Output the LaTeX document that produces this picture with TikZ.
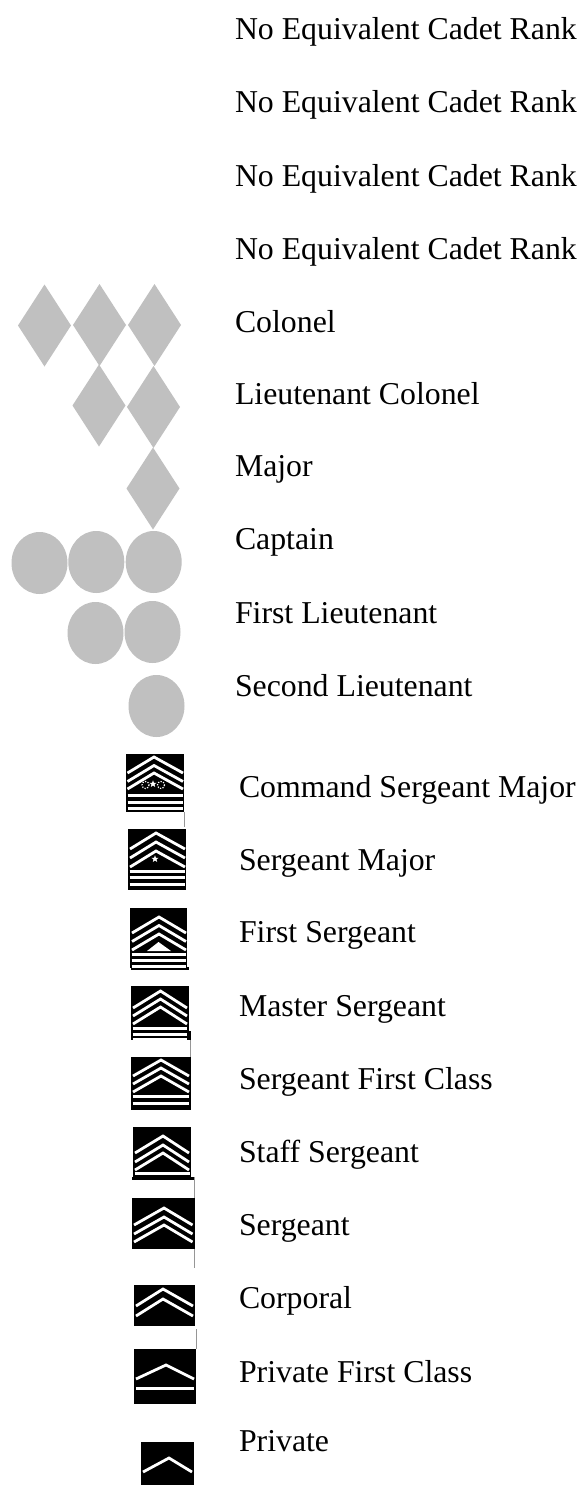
\documentclass[tikz,border=0pt]{standalone}
\usepackage{fontspec}
\usetikzlibrary{shapes.geometric}
\setmainfont{Liberation Serif}
\definecolor{pipgrey}{RGB}{192,192,192}
\definecolor{edgegrey}{RGB}{150,150,150}
\tikzset{
  x=1pt,y=-1pt,
  lbl/.style={anchor=base west,inner sep=0pt,outer sep=0pt,font=\fontsize{31.8}{33}\selectfont},
  pip/.style={fill=pipgrey,draw=none},
  plate/.style={fill=black,draw=none},
  stripe/.style={draw=white,line width=3pt,line cap=butt},
  chev/.style={draw=white,line width=2.8pt,line join=miter},
  edge/.style={draw=edgegrey,line width=0.8pt},
  starmark/.style={star,star points=5,star point ratio=2.4,fill=white,draw=none,inner sep=0pt,minimum size=7.5pt},
  wreath/.style={draw=white,line width=1.2pt,dash pattern=on 1.2pt off 1.4pt},
}
\newcommand{\chevs}[5]{\foreach \a in {#5}{\draw[chev] (#1,\a+#4) -- (#2,\a) -- (#3,\a+#4);}}
\newcommand{\bars}[3]{\foreach \b in {#3}{\draw[stripe] (#1,\b) -- (#2,\b);}}
\newcommand{\dia}[2]{\fill[pip] (#1-26.5,#2) -- (#1,#2-41) -- (#1+26.5,#2) -- (#1,#2+41) -- cycle;}
\newcommand{\pipc}[2]{\fill[pip] (#1,#2) circle[x radius=28,y radius=31];}
\begin{document}
\begin{tikzpicture}
\useasboundingbox (0,0) rectangle (583,1485);
\fill[white] (0,0) rectangle (583,1485);
% labels
\node[lbl] (t1) at (235,40) {No Equivalent Cadet Rank};
\node[lbl] (t2) at (235,113) {No Equivalent Cadet Rank};
\node[lbl] (t3) at (235,186) {No Equivalent Cadet Rank};
\node[lbl] (t4) at (235,259) {No Equivalent Cadet Rank};
\node[lbl] (t5) at (235,332) {Colonel};
\node[lbl] (t6) at (235,404) {Lieutenant Colonel};
\node[lbl] (t7) at (235,476) {Major};
\node[lbl] (t8) at (235,549) {Captain};
\node[lbl] (t9) at (235,623) {First Lieutenant};
\node[lbl] (t10) at (235,696) {Second Lieutenant};
\node[lbl] (t11) at (239,797) {Command Sergeant Major};
\node[lbl] (t12) at (239,870) {Sergeant Major};
\node[lbl] (t13) at (239,942) {First Sergeant};
\node[lbl] (t14) at (239,1016) {Master Sergeant};
\node[lbl] (t15) at (239,1089) {Sergeant First Class};
\node[lbl] (t16) at (239,1162) {Staff Sergeant};
\node[lbl] (t17) at (239,1235) {Sergeant};
\node[lbl] (t18) at (239,1308) {Corporal};
\node[lbl] (t19) at (239,1382) {Private First Class};
\node[lbl] (t20) at (239,1451) {Private};
% diamonds
\dia{44.5}{325.5}
\dia{99.5}{325}
\dia{154.5}{325}
\dia{99}{405.5}
\dia{153.5}{407}
\dia{153}{488.5}
% circles
\pipc{39.5}{563}
\pipc{96.3}{562}
\pipc{153.7}{562}
\pipc{95.5}{633}
\pipc{152.5}{632}
\pipc{156.5}{706}
% CSM
\fill[plate] (126,754) rectangle (184,812);
\chevs{127.5}{154}{183}{16}{757,765.5,773}
\bars{127.5}{183}{795,802,808.5}
\node[starmark] (s1) at (153,784) {};
\draw[wreath] (145.5,785) circle[radius=3.5];
\draw[wreath] (161,785) circle[radius=3.5];
\draw[edge] (184,812) -- (184,827);
% SGM
\fill[plate] (128,829) rectangle (186,890);
\chevs{130}{156}{185}{16}{833,842,851}
\bars{129.5}{185}{871,877.5,884}
\node[starmark] (s2) at (155,859) {};
% 1SG
\fill[plate] (130,908) rectangle (187,968);
\fill[plate] (131,967) rectangle (189,970);
\chevs{132}{159}{186}{16}{917,925.5,934}
\fill[white] (147,951) -- (158.5,942) -- (171,951) -- cycle;
\bars{131.5}{186}{954,960,966}
% MSG
\fill[plate] (131,986) rectangle (189,1040);
\fill[plate] (188,1031) rectangle (190.5,1040);
\chevs{133}{160.5}{187}{17}{991,999,1007}
\bars{132.5}{187}{1028,1034,1039}
\draw[edge] (190.5,1040) -- (190.5,1057);
% SFC
\fill[plate] (131,1057) rectangle (191,1110);
\chevs{133}{161}{189}{16}{1060,1068,1076}
\bars{132.5}{189}{1096,1103}
% SSG
\fill[plate] (133,1127) rectangle (191,1177);
\chevs{135}{163}{189}{17}{1136,1145,1153}
\bars{134.5}{190}{1173}
% SGT
\fill[plate] (132,1177) rectangle (194.5,1180);
\draw[edge] (194.5,1177) -- (194.5,1198);
\fill[plate] (132,1198) rectangle (194.5,1249);
\chevs{134}{164}{192.5}{17}{1208,1217,1225}
\draw[edge] (194.5,1249) -- (194.5,1268);
% CPL
\fill[plate] (134,1285) rectangle (194.5,1326);
\chevs{136}{163}{193}{17}{1289,1299}
% PFC
\fill[plate] (134,1349) rectangle (196,1404);
\chevs{136}{166}{194}{14}{1365}
\bars{136}{194}{1388}
\draw[edge] (196,1329) -- (196,1349);
% PVT
\fill[plate] (141,1442) rectangle (194,1485);
\chevs{143}{169}{192}{14}{1458}
\end{tikzpicture}
\end{document}
